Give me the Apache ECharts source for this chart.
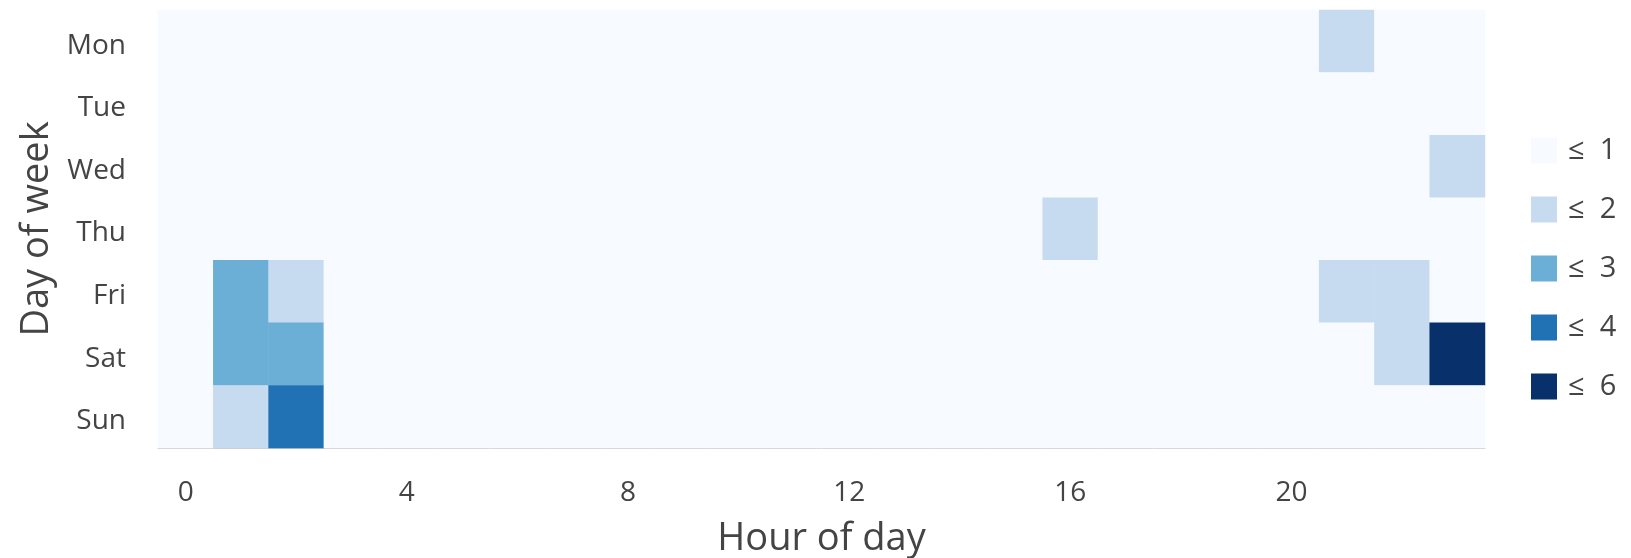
<!DOCTYPE html>
<html>
<head>
<meta charset="utf-8">
<script src="https://cdn.jsdelivr.net/npm/echarts@6/dist/echarts.min.js"></script>
<style>
  html, body { margin: 0; padding: 0; background: #fff; }
  #heat { width: 1631px; height: 558px; }
</style>
</head>
<body>
<div id="heat"></div>
<script>
const hours = ["0","1","2","3","4","5","6","7","8","9","10","11","12","13","14","15","16","17","18","19","20","21","22","23"];
const days = ["Mon", "Tue", "Wed", "Thu", "Fri", "Sat", "Sun"];

// counts per hour, one row per day
const mon = [0,0,0,0,0,0,0,0,0,0,0,0,0,0,0,0,0,0,0,0,0,2,0,0];
const tue = [0,0,0,0,0,0,0,0,0,0,0,0,0,0,0,0,0,0,0,0,0,0,0,0];
const wed = [0,0,0,0,0,0,0,0,0,0,0,0,0,0,0,0,0,0,0,0,0,0,0,2];
const thu = [0,0,0,0,0,0,0,0,0,0,0,0,0,0,0,0,2,0,0,0,0,0,0,0];
const fri = [0,3,2,0,0,0,0,0,0,0,0,0,0,0,0,0,0,0,0,0,0,2,2,0];
const sat = [0,3,3,0,0,0,0,0,0,0,0,0,0,0,0,0,0,0,0,0,0,0,2,6];
const sun = [0,2,4,0,0,0,0,0,0,0,0,0,0,0,0,0,0,0,0,0,0,0,0,0];
const rows = [mon, tue, wed, thu, fri, sat, sun];

const pieceMax = [1, 2, 3, 4, 6];
const pieceColors = ["#f7fbff", "#c6dbef", "#6baed6", "#2171b5", "#08306b"];

const cells = [];
rows.forEach(function (row, d) {
  row.forEach(function (v, h) {
    cells.push([h, d, v]);
  });
});

const pieces = pieceMax.map(function (m, i) {
  const p = { lte: m, label: "\u2264  " + m, color: pieceColors[i] };
  if (i > 0) p.gt = pieceMax[i - 1];
  return p;
});

const myChart = echarts.init(document.getElementById("heat"));
const font = "'Open Sans', 'Noto Sans', sans-serif";
const option = {
  textStyle: { fontFamily: font },
  grid: {
    left: 158,
    right: 146,
    top: 10,
    bottom: 110,
    outerBoundsMode: "none"
  },
  xAxis: {
    type: "category",
    data: hours,
    name: "Hour of day",
    nameLocation: "middle",
    nameGap: 72,
    nameTextStyle: { fontSize: 38, color: "#444", fontFamily: font },
    axisLine: { lineStyle: { color: "#ccc", width: 1 } },
    axisTick: { show: false },
    axisLabel: { interval: 3, fontSize: 28, color: "#444", margin: 31, fontFamily: font },
    splitLine: { show: false }
  },
  yAxis: {
    type: "category",
    data: days,
    inverse: true,
    name: "Day of week",
    nameLocation: "middle",
    nameGap: 100,
    nameTextStyle: { fontSize: 38, color: "#444", fontFamily: font },
    axisLine: { show: false },
    axisTick: { show: false },
    axisLabel: {
      margin: 32,
      formatter: "{d|{value}}",
      rich: {
        d: { fontSize: 28, color: "#444", fontFamily: font, lineHeight: 37, verticalAlign: "bottom" }
      }
    },
    splitLine: { show: false }
  },
  visualMap: {
    type: "piecewise",
    pieces: pieces,
    orient: "vertical",
    inverse: true,
    align: "left",
    left: 1516,
    top: 121,
    itemWidth: 26,
    itemHeight: 26,
    itemGap: 30,
    textGap: 11,
    itemSymbol: "rect",
    textStyle: { fontSize: 29, color: "#444", fontFamily: font }
  },
  series: [
    {
      type: "heatmap",
      data: cells,
      itemStyle: { borderWidth: 0 },
      emphasis: { disabled: true }
    }
  ]
};
myChart.setOption(option);
</script>
</body>
</html>
